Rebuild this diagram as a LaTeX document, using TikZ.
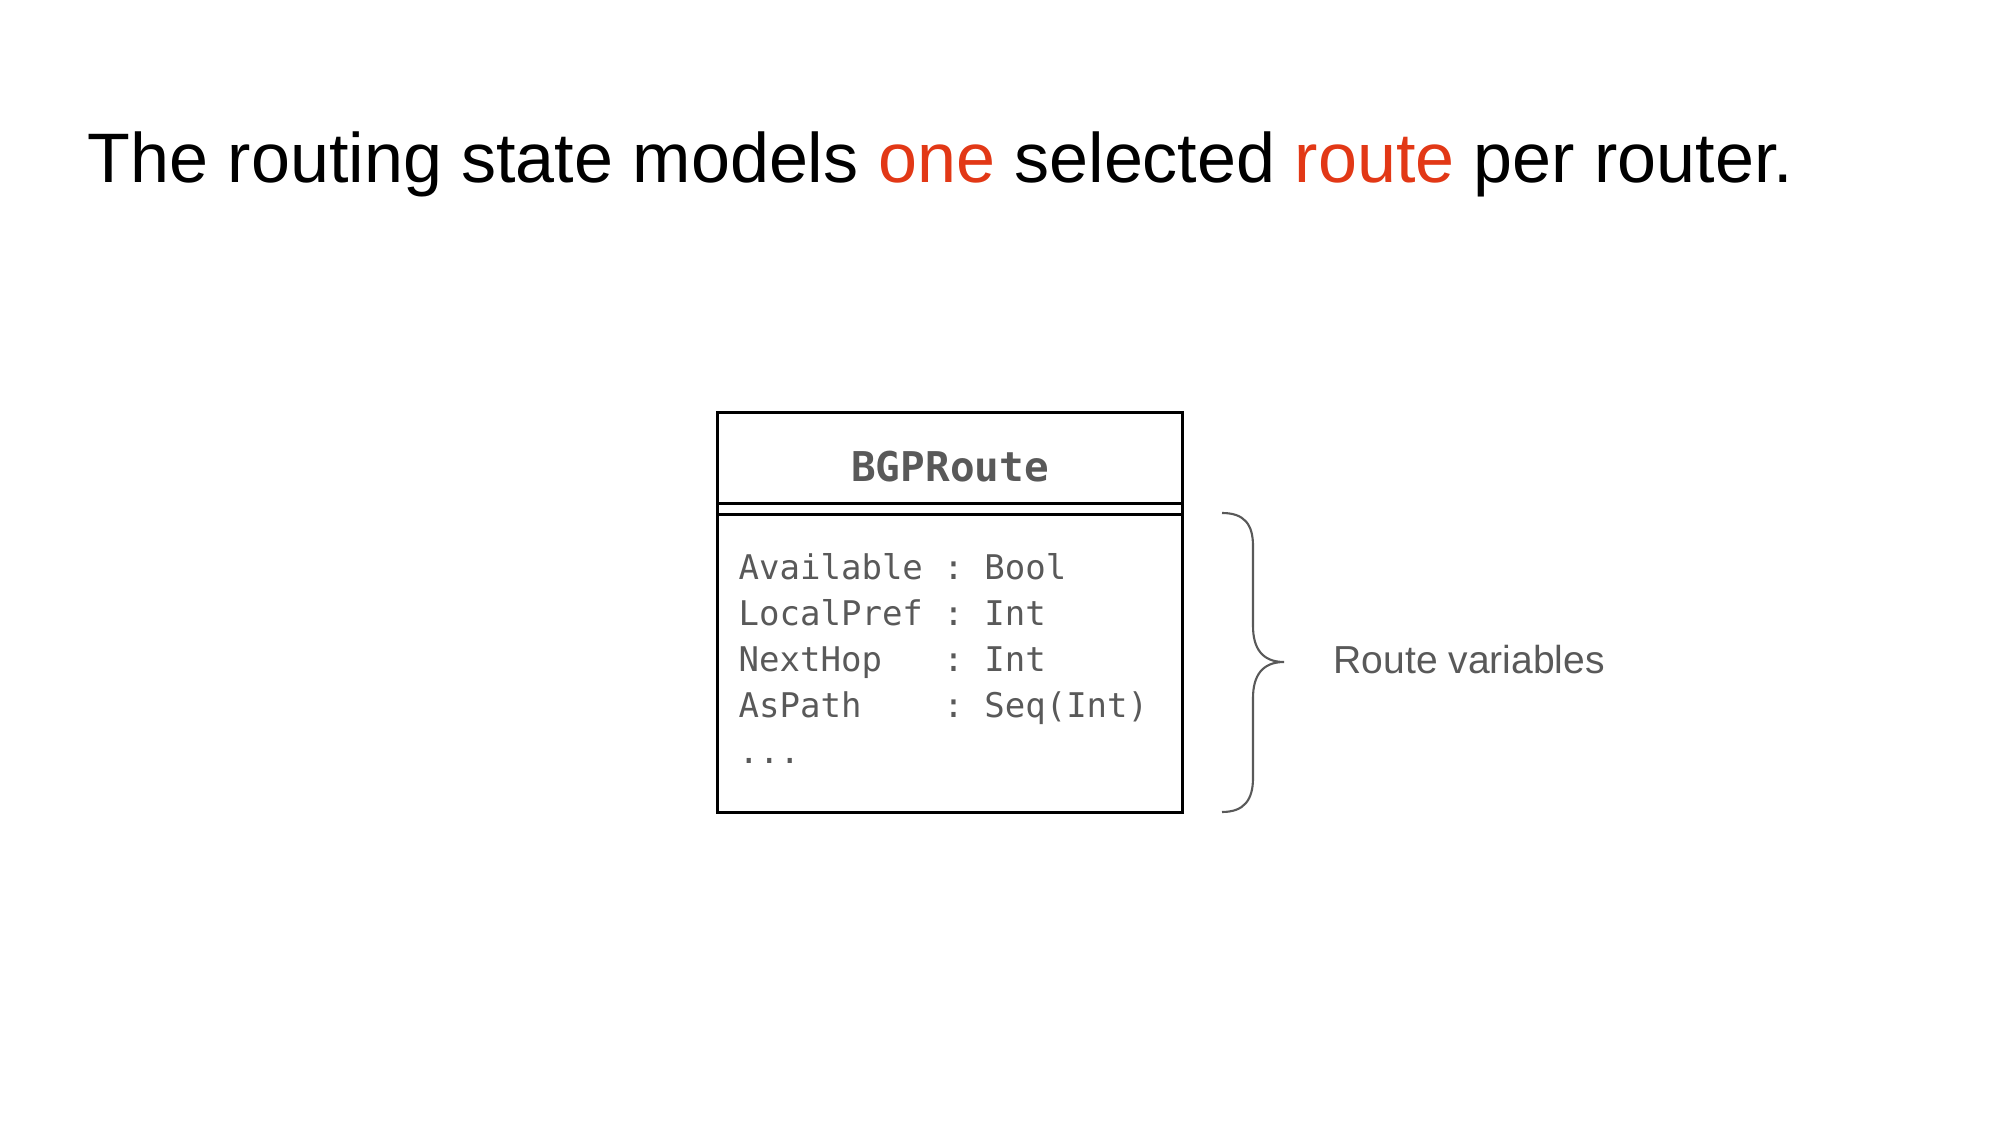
\documentclass[tikz,border=0pt]{standalone}
\usepackage{fontspec}
\setmainfont{Liberation Sans}
\setmonofont{DejaVu Sans Mono}
\usepackage{tikz}
\usetikzlibrary{positioning,calc}
\definecolor{hl}{RGB}{226,56,22}
\definecolor{slate}{RGB}{89,89,89}

\begin{document}
\begin{tikzpicture}[
  x=0.01cm,y=-0.01cm,
  umlbox/.style={draw,line width=0.85pt,minimum width=46.4mm,minimum height=39.9mm,inner sep=0pt},
  clsname/.style={anchor=base,inner sep=0pt,text=slate,font=\ttfamily\bfseries\fontsize{11.66}{14}\selectfont},
  fields/.style={anchor=base west,inner sep=0pt,align=left,text=slate,font=\ttfamily\fontsize{9.67}{13.09}\selectfont},
  rule/.style={line width=0.85pt},
  brace/.style={draw=slate,line width=0.6pt},
  note/.style={anchor=base west,inner sep=0pt,text=slate,font=\fontsize{11.1}{13}\selectfont}
]
\useasboundingbox (0,0) rectangle (2000,1125);
\node[anchor=base west,inner sep=0pt,font=\fontsize{19.92}{24}\selectfont] (title) at (87,183)
  {The routing state models \textcolor{hl}{one} selected \textcolor{hl}{route} per router.};
\node[umlbox] (cls) at (950,612.5) {};
\node[clsname] (name) at (950,482) {BGPRoute};
\draw[rule] ([yshift=-9.2mm]cls.north west) -- ([yshift=-9.2mm]cls.north east);
\draw[rule] ([yshift=-10.3mm]cls.north west) -- ([yshift=-10.3mm]cls.north east);
\node[fields] (vars) at (738,764)
  {Available : Bool\\LocalPref : Int\\NextHop\ \ \ : Int\\AsPath\ \ \ \ : Seq(Int)\\...};
\coordinate (btop) at (1222,513);
\coordinate (tip) at (1284,662);
\coordinate (bbot) at (1222,812);
\draw[brace] (btop) .. controls (1244,513) and (1253,524) .. (1253,546) -- (1253,626)
  .. controls (1253,648) and (1262,662) .. (tip)
  .. controls (1262,662) and (1253,676) .. (1253,698) -- (1253,778)
  .. controls (1253,800) and (1244,812) .. (bbot);
\node[note] (lbl) at (1333,673) {Route variables};
\end{tikzpicture}
\end{document}
